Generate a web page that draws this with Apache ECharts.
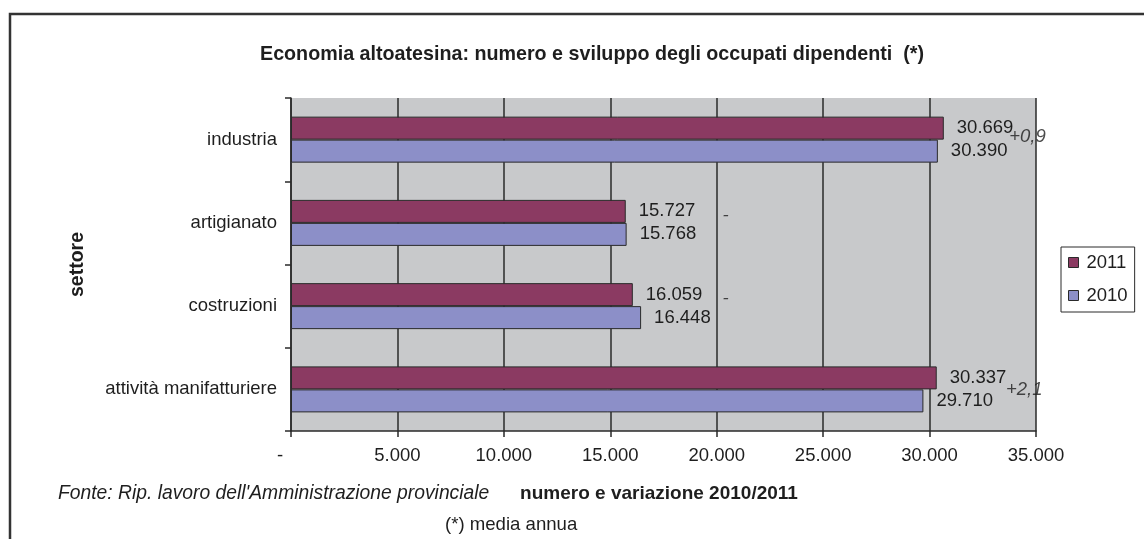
<!DOCTYPE html>
<html>
<head>
<meta charset="utf-8">
<title>Economia altoatesina</title>
<script src="https://cdn.jsdelivr.net/npm/echarts@6/dist/echarts.min.js"></script>
<style>
html, body { margin: 0; padding: 0; background: #fff; }
#chart { width: 1144px; height: 539px; }
</style>
</head>
<body>
<div id="chart"></div>
<script>
// settori, dall'alto verso il basso
var settori = ['industria', 'artigianato', 'costruzioni', 'attività manifatturiere'];
var occupati2011 = [30669, 15727, 16059, 30337];
var occupati2010 = [30390, 15768, 16448, 29710];
// variazione 2010/2011 scritta a destra delle barre, e dove sta sull'asse
var variazioni = ['+0,9', '-', '-', '+2,1'];
var posVariazioni = [34600, 20420, 20420, 34450];
// asse x
var xMin = 0;
var xMax = 35000;
var xStep = 5000;

var scuro = '#2a2a2a';
var testo = '#1e1e1e';
var font = '"Liberation Sans", Arial, sans-serif';
// piccolo spostamento verticale delle scritte di variazione
var spostaVar = [-3, -7, -7, 0];

// 30669 -> 30.669, 0 -> -
function formatta(v) {
    if (v === 0) return '{z|-}';
    return String(v).replace(/\B(?=(\d{3})+(?!\d))/g, '.');
}

var myChart = echarts.init(document.getElementById('chart'));

var labelBarre = {
    show: true,
    position: 'right',
    distance: 13,
    color: testo,
    fontSize: 18.5,
    formatter: function (p) { return formatta(p.value); }
};

var option = {
    textStyle: { fontFamily: font },
    animation: false,
    title: {
        text: 'Economia altoatesina: numero e sviluppo degli occupati dipendenti  (*)',
        left: 260,
        top: 45,
        padding: 0,
        textStyle: { fontSize: 19.7, fontWeight: 'bold', color: testo, fontFamily: font }
    },
    legend: {
        data: ['2011', '2010'],
        orient: 'vertical',
        left: 1061,
        top: 247,
        padding: [6, 7, 7, 7],
        itemGap: 14,
        itemWidth: 10,
        itemHeight: 10,
        icon: 'rect',
        borderColor: scuro,
        borderWidth: 1,
        borderRadius: 0,
        backgroundColor: '#fff',
        itemStyle: { borderColor: scuro, borderWidth: 1 },
        textStyle: { fontSize: 18.5, color: testo, padding: [0, 0, 0, 3] }
    },
    grid: {
        left: 291,
        right: 108,
        top: 98,
        bottom: 108,
        show: true,
        backgroundColor: '#c8c9cb',
        borderWidth: 0
    },
    xAxis: {
        type: 'value',
        min: xMin,
        max: xMax,
        interval: xStep,
        name: 'numero e variazione 2010/2011',
        nameLocation: 'middle',
        nameGap: 53,
        nameTextStyle: { fontSize: 19, fontWeight: 'bold', color: testo, padding: [0, 9, 0, 0] },
        axisLine: { show: true, lineStyle: { color: scuro, width: 1.5 } },
        axisTick: { show: true, length: 6, lineStyle: { color: scuro, width: 1.5 } },
        splitLine: { show: true, lineStyle: { color: scuro, width: 1.5 } },
        axisLabel: {
            fontSize: 18.5,
            color: testo,
            margin: 15,
            formatter: formatta,
            rich: { z: { fontSize: 18.5, color: testo, padding: [0, 22, 0, 0] } }
        }
    },
    yAxis: {
        type: 'category',
        data: settori,
        inverse: true,
        name: 'settore',
        nameLocation: 'middle',
        nameRotate: 90,
        nameGap: 203,
        nameTextStyle: { fontSize: 19.5, fontWeight: 'bold', color: testo },
        axisLine: { show: true, lineStyle: { color: scuro, width: 1.5 } },
        axisTick: { show: true, length: 6, lineStyle: { color: scuro, width: 1.5 } },
        splitLine: { show: false },
        axisLabel: { fontSize: 18.5, color: testo, margin: 14 }
    },
    series: [
        {
            name: '2011',
            type: 'bar',
            data: occupati2011,
            barWidth: 23,
            barGap: '0%',
            itemStyle: { color: '#8b3a62', borderColor: scuro, borderWidth: 1 },
            label: labelBarre
        },
        {
            name: '2010',
            type: 'bar',
            data: occupati2010,
            barWidth: 23,
            barGap: '0%',
            itemStyle: { color: '#8c8fc8', borderColor: scuro, borderWidth: 1 },
            label: labelBarre
        },
        {
            name: 'variazione',
            type: 'scatter',
            silent: true,
            symbolSize: 1,
            itemStyle: { color: 'rgba(0,0,0,0)' },
            data: variazioni.map(function (t, i) {
                return { value: [posVariazioni[i], i], label: { offset: [0, spostaVar[i]] } };
            }),
            label: {
                show: true,
                position: 'inside',
                fontSize: 18.5,
                fontStyle: 'italic',
                color: testo,
                formatter: function (p) { return variazioni[p.dataIndex]; }
            }
        }
    ],
    graphic: [
        {
            type: 'rect',
            silent: true,
            shape: { x: 10, y: 14, width: 1200, height: 600 },
            style: { fill: 'none', stroke: '#333', lineWidth: 2.5 }
        },
        {
            type: 'text',
            x: 58,
            y: 494,
            style: {
                text: "Fonte: Rip. lavoro dell'Amministrazione provinciale",
                fontSize: 19.3,
                fontStyle: 'italic',
                fontFamily: font,
                fill: testo,
                verticalAlign: 'middle'
            }
        },
        {
            type: 'text',
            x: 445,
            y: 525,
            style: {
                text: '(*) media annua',
                fontSize: 18.6,
                fontFamily: font,
                fill: testo,
                verticalAlign: 'middle'
            }
        }
    ]
};

myChart.setOption(option);
</script>
</body>
</html>
